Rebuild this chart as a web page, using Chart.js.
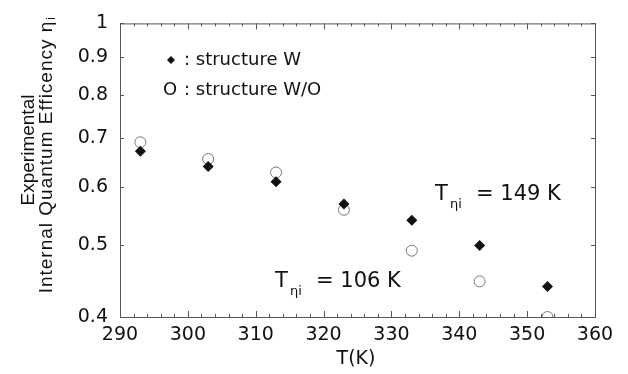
<!DOCTYPE html>
<html>
<head>
<meta charset="utf-8">
<script src="https://cdn.jsdelivr.net/npm/chart.js@4.4.1/dist/chart.umd.min.js"></script>
<style>
  html, body { margin: 0; padding: 0; background: #fff; }
  #wrap { width: 628px; height: 374px; }
</style>
</head>
<body>
<div id="wrap"><canvas id="myChart"></canvas></div>
<script>
// temperature (K)
const temps = [293, 303, 313, 323, 333, 343, 353];
// experimental internal quantum efficiency
const etaW  = [0.671, 0.640, 0.610, 0.569, 0.541, 0.500, 0.440];
const etaWO = [0.690, 0.655, 0.628, 0.559, 0.492, 0.447, 0.400];

const xTicks = [290, 300, 310, 320, 330, 340, 350, 360];
const yTicks = [0.4, 0.5, 0.6, 0.7, 0.8, 0.9, 1];

const legendLabels = [': structure W', ': structure W/O'];
const tLabels = ['= 149 K', '= 106 K'];

const ink = '#111';
const axisCol = '#555';

const ctx = document.getElementById('myChart');

// box, inward ticks, legend, annotations, axis titles
const decor = {
  id: 'decor',
  afterDraw(chart) {
    const c = chart.ctx;
    const a = chart.chartArea;
    const xs = chart.scales.x, ys = chart.scales.y;
    c.save();
    c.strokeStyle = axisCol;
    c.lineWidth = 1;
    c.strokeRect(a.left + 0.5, a.top + 0.5, a.right - a.left, a.bottom - a.top);

    c.beginPath();
    for (let v = 290; v <= 360; v += 2) {
      const px = Math.round(xs.getPixelForValue(v)) + 0.5;
      const len = v % 10 === 0 ? 6 : 3;
      c.moveTo(px, a.bottom); c.lineTo(px, a.bottom - len);
      c.moveTo(px, a.top); c.lineTo(px, a.top + len);
    }
    yTicks.forEach(v => {
      const py = Math.round(ys.getPixelForValue(v)) + 0.5;
      c.moveTo(a.left, py); c.lineTo(a.left + 4, py);
      c.moveTo(a.right, py); c.lineTo(a.right - 4, py);
    });
    c.stroke();

    // legend
    c.fillStyle = ink;
    c.beginPath();
    c.moveTo(171, 56); c.lineTo(175, 60); c.lineTo(171, 64); c.lineTo(167, 60);
    c.closePath(); c.fill();
    c.font = '18px "DejaVu Sans"';
    c.textBaseline = 'middle';
    c.textAlign = 'left';
    c.fillText(legendLabels[0], 184, 60);
    c.fillText('O', 163, 90);
    c.fillText(legendLabels[1], 184, 90);

    // annotations
    const ann = (x, base, txt) => {
      c.textBaseline = 'alphabetic';
      c.font = '21px "DejaVu Sans"';
      c.fillText('T', x, base);
      c.font = '13px "DejaVu Sans"';
      c.fillText('\u03b7i', x + 15, base + 8);
      c.font = '21px "DejaVu Sans"';
      c.fillText(txt, x + 41, base);
    };
    ann(435, 200, tLabels[0]);
    ann(275, 287, tLabels[1]);

    // x title
    c.textAlign = 'center';
    c.textBaseline = 'middle';
    c.font = '19px "DejaVu Sans"';
    c.fillText('T(K)', 356, 359);

    // y title (two lines, rotated)
    c.translate(38, 150);
    c.rotate(-Math.PI / 2);
    c.font = '19px "Liberation Sans"';
    c.textAlign = 'center';
    c.fillText('Experimental', 0, -9);
    c.letterSpacing = '1px';
    const l2 = 'Internal Quantum Efficency \u03b7';
    const w2 = c.measureText(l2).width;
    c.fillText(l2, -7, 9);
    c.letterSpacing = '0px';
    c.font = '12px "Liberation Sans"';
    c.textAlign = 'left';
    c.fillText('i', -7 + w2 / 2 + 1, 14);
    c.restore();
  }
};

const myChart = new Chart(ctx, {
  type: 'scatter',
  data: {
    datasets: [
      {
        label: 'structure W',
        data: temps.map((t, i) => ({ x: t, y: etaW[i] })),
        pointStyle: 'rectRot',
        pointRadius: 5.5,
        backgroundColor: ink,
        borderColor: ink,
        borderWidth: 0
      },
      {
        label: 'structure W/O',
        data: temps.map((t, i) => ({ x: t, y: etaWO[i] })),
        pointStyle: 'circle',
        pointRadius: 5.5,
        backgroundColor: 'rgba(0,0,0,0)',
        borderColor: '#777',
        borderWidth: 1
      }
    ]
  },
  options: {
    responsive: true,
    maintainAspectRatio: false,
    animation: false,
    layout: { padding: { top: 22, right: 33, left: 0, bottom: 0 } },
    plugins: {
      legend: { display: false },
      tooltip: { enabled: false }
    },
    scales: {
      x: {
        type: 'linear',
        min: 290,
        max: 360,
        afterBuildTicks: s => { s.ticks = xTicks.map(v => ({ value: v })); },
        afterFit: s => { s.height = 57; },
        grid: { display: false, drawTicks: false },
        border: { display: false },
        ticks: {
          color: ink,
          padding: 7,
          maxRotation: 0,
          font: { family: 'DejaVu Sans', size: 19 }
        }
      },
      y: {
        type: 'logarithmic',
        min: 0.4,
        max: 1,
        afterBuildTicks: s => { s.ticks = yTicks.map(v => ({ value: v })); },
        afterFit: s => { s.width = 120; },
        grid: { display: false, drawTicks: false },
        border: { display: false },
        ticks: {
          color: ink,
          padding: 12,
          font: { family: 'DejaVu Sans', size: 19 },
          callback: v => (v === 1 ? '1' : v.toFixed(1))
        }
      }
    }
  },
  plugins: [decor]
});
</script>
</body>
</html>
